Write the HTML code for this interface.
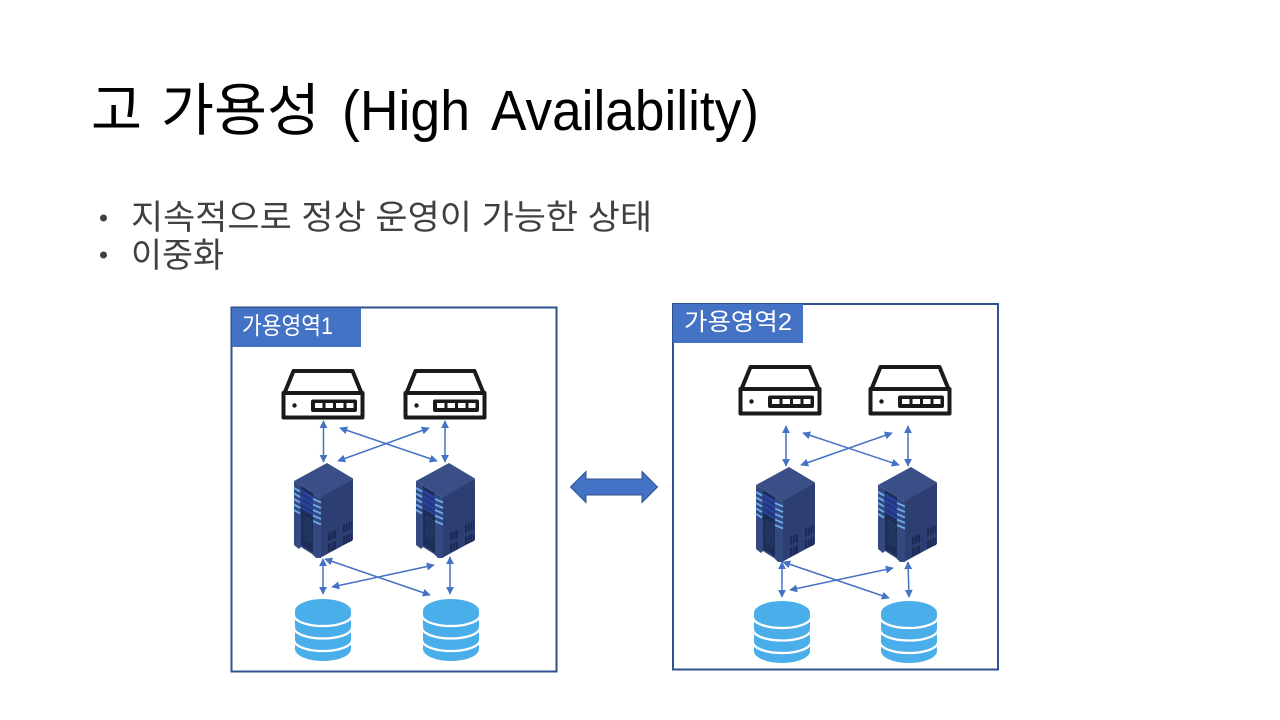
<!DOCTYPE html>
<html><head><meta charset="utf-8"><style>
html,body{margin:0;padding:0;background:#fff}
svg{display:block}
text{font-family:"Liberation Sans","Noto Sans CJK KR",sans-serif}
</style></head><body>
<svg width="1280" height="720" viewBox="0 0 1280 720" xmlns="http://www.w3.org/2000/svg">
<defs>
<marker id="a" viewBox="0 0 10 10" refX="9" refY="5" markerWidth="8" markerHeight="8" markerUnits="userSpaceOnUse" orient="auto-start-reverse"><path d="M0 0L10 5L0 10Z" fill="#4472c4"/></marker>
<g id="router">
<path d="M11.500 2H70.500L79.500 24H2.500Z" fill="#fff" stroke="#1a1a1a" stroke-width="4" stroke-linejoin="round"/>
<rect x="1.500" y="24" width="79" height="24.500" fill="#fff" stroke="#1a1a1a" stroke-width="4" stroke-linejoin="round"/>
<circle cx="12.500" cy="36.500" r="2.200" fill="#1a1a1a"/>
<rect x="29" y="30.500" width="46" height="12.500" rx="2" fill="#1a1a1a"/>
<rect x="33" y="34" width="7.500" height="5" fill="#fff"/><rect x="43.500" y="34" width="7.500" height="5" fill="#fff"/><rect x="54" y="34" width="7.500" height="5" fill="#fff"/><rect x="64.500" y="34" width="7" height="5" fill="#fff"/>
</g>
<g id="server">
<path d="M33 0L59 15.500L27 35L0 18Z" fill="#3a4f87"/>
<path d="M59 15.500V77L26 95V35Z" fill="#2d3f72"/>
<path d="M0 18L27 35V95H22L18 91L7 84L5 86L0 82Z" fill="#34497f"/>
<path d="M7 23L19 30V90L7 82Z" fill="#1c2d56"/>
<path d="M7 26L19 33V50L7 43Z" fill="#23397a"/>
<g stroke="#6aa8e8" stroke-width="1.900">
<path d="M0 25L6 28.500M0 30.500L6 34M0 36L6 39.500M0 41.500L6 45M0 47L6 50.500"/>
<path d="M19 36L27 39.500M19 41.500L27 45M19 47L27 50.500M19 52.500L27 56M19 58L27 61.500"/>
</g>
<g stroke="#2b45b0" stroke-width="1.700"><path d="M7 28L19 35M7 33.500L19 40.500M7 39L19 46M7 44.500L19 51.500"/></g>
<g stroke="#2d4272" stroke-width="1"><path d="M9 53L18 58M9 56L18 61M9 59L18 64M9 62L18 67M9 65L18 70M9 68L18 73M9 71L18 76M9 74L18 79"/></g>
<g fill="#1a2a55"><path d="M34 70L42 67V75L34 78Z"/><path d="M34 81L42 78V86L34 89Z"/><path d="M49 62L58 58V66L49 70Z"/><path d="M49 74L58 70V78L49 82Z"/></g>
<g stroke="#2d3f72" stroke-width="0.800"><path d="M36.500 68V88M39 67V87M51.500 60V80M54 59V79M56.500 58V78"/></g>
</g>
<g id="db">
<path d="M0 12A28 12 0 0 1 56 12V50A28 12 0 0 1 0 50Z" fill="#4aaeea"/>
<g fill="none" stroke="#fff" stroke-width="2.300">
<path d="M-1 16A29 11 0 0 0 57 16"/>
<path d="M-1 28.500A29 11 0 0 0 57 28.500"/>
<path d="M-1 41A29 11 0 0 0 57 41"/>
</g>
</g>
</defs>
<rect width="1280" height="720" fill="#fff"/>

<text x="91" y="130" font-size="57" fill="#000" textLength="51" lengthAdjust="spacingAndGlyphs">고</text>
<text x="161" y="130" font-size="57" fill="#000" textLength="159" lengthAdjust="spacingAndGlyphs">가용성</text>
<text x="342" y="130" font-size="57" fill="#000" textLength="128" lengthAdjust="spacingAndGlyphs">(High</text>
<text x="491" y="130" font-size="57" fill="#000" textLength="268" lengthAdjust="spacingAndGlyphs">Availability)</text>

<circle cx="103.500" cy="218" r="3.500" fill="#404040"/>
<circle cx="103.500" cy="255" r="3.500" fill="#404040"/>
<text x="131" y="229" font-size="34" fill="#404040" textLength="521" lengthAdjust="spacingAndGlyphs">지속적으로 정상 운영이 가능한 상태</text>
<text x="131" y="267" font-size="34" fill="#404040" textLength="93" lengthAdjust="spacingAndGlyphs">이중화</text>

<rect x="231.500" y="307.500" width="325" height="364" fill="#fff" stroke="#2f528f" stroke-width="2"/>
<rect x="232" y="308" width="129" height="39" fill="#4472c4"/>
<text x="242" y="334" font-size="24" fill="#fff" textLength="91" lengthAdjust="spacingAndGlyphs">가용영역1</text>

<rect x="673" y="304" width="325" height="365.500" fill="#fff" stroke="#2f528f" stroke-width="2"/>
<rect x="673" y="304" width="130" height="39" fill="#4472c4"/>
<text x="684" y="330" font-size="24" fill="#fff" textLength="108" lengthAdjust="spacingAndGlyphs">가용영역2</text>

<use href="#router" x="282" y="369"/>
<use href="#router" x="404" y="369"/>
<use href="#router" x="739" y="365"/>
<use href="#router" x="869" y="365"/>

<use href="#server" x="294" y="463"/>
<use href="#server" x="416" y="463"/>
<use href="#server" x="756" y="467"/>
<use href="#server" x="878" y="467"/>

<use href="#db" x="295" y="599"/>
<use href="#db" x="423" y="599"/>
<use href="#db" x="754" y="601"/>
<use href="#db" x="881" y="601"/>

<g stroke="#4472c4" stroke-width="1.500" fill="none">
<path d="M323.500 421V462" marker-start="url(#a)" marker-end="url(#a)"/>
<path d="M445 421V462" marker-start="url(#a)" marker-end="url(#a)"/>
<path d="M340 428L437 461" marker-start="url(#a)" marker-end="url(#a)"/>
<path d="M429 428L338 461" marker-start="url(#a)" marker-end="url(#a)"/>
<path d="M323 559V594" marker-start="url(#a)" marker-end="url(#a)"/>
<path d="M450 557V594" marker-start="url(#a)" marker-end="url(#a)"/>
<path d="M325 559L430 595" marker-start="url(#a)" marker-end="url(#a)"/>
<path d="M434 565L332 587" marker-start="url(#a)" marker-end="url(#a)"/>
<path d="M786 426V466" marker-start="url(#a)" marker-end="url(#a)"/>
<path d="M908 426V466" marker-start="url(#a)" marker-end="url(#a)"/>
<path d="M803 433L899 465" marker-start="url(#a)" marker-end="url(#a)"/>
<path d="M892 433L801 465" marker-start="url(#a)" marker-end="url(#a)"/>
<path d="M782 562V597" marker-start="url(#a)" marker-end="url(#a)"/>
<path d="M908 562L909 597" marker-start="url(#a)" marker-end="url(#a)"/>
<path d="M783 562L889 598" marker-start="url(#a)" marker-end="url(#a)"/>
<path d="M893 568L790 590" marker-start="url(#a)" marker-end="url(#a)"/>
</g>

<path d="M570.500 487L586 471.500V479H642V471.500L657.500 487L642 502.500V495H586V502.500Z" fill="#4472c4" stroke="#2f528f" stroke-width="1"/>
</svg>
</body></html>
